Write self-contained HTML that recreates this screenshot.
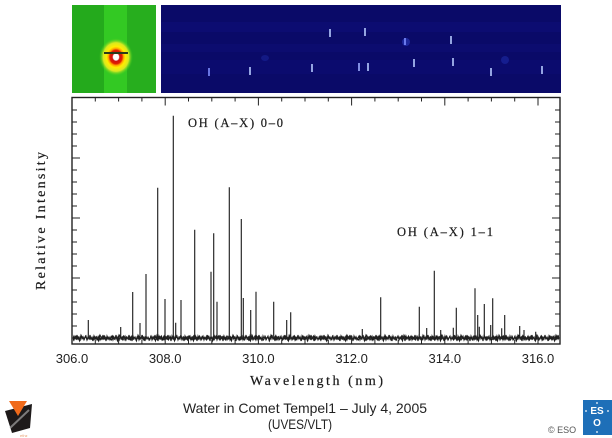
<!DOCTYPE html>
<html><head><meta charset="utf-8"><style>
html,body{margin:0;padding:0;background:#fff;}
svg{display:block;}
</style></head><body>
<svg width="612" height="438" viewBox="0 0 612 438" xmlns="http://www.w3.org/2000/svg">
<defs>
<radialGradient id="glow" cx="0.5" cy="0.5" r="0.5">
<stop offset="0" stop-color="#ffffff"/>
<stop offset="0.16" stop-color="#ffffff"/>
<stop offset="0.22" stop-color="#d01010"/>
<stop offset="0.36" stop-color="#e02000"/>
<stop offset="0.44" stop-color="#ffa000"/>
<stop offset="0.55" stop-color="#ffee00"/>
<stop offset="0.75" stop-color="#d8e820"/>
<stop offset="1" stop-color="#34cc22" stop-opacity="0"/>
</radialGradient>
<pattern id="nA" patternUnits="userSpaceOnUse" x="72" y="332" width="13" height="12">
<polyline points="0,6 1,4 2,8 3,5 4,7 5,3 6,7 7,5 8,9 9,4 10,7 11,5 12,8 13,6" fill="none" stroke="#111" stroke-width="1"/>
</pattern>
<pattern id="nB" patternUnits="userSpaceOnUse" x="72" y="332" width="19" height="12">
<polyline points="0,6 1.5,8 3,4 4.5,7 6,5 7.5,9 9,3 10.5,6 12,7 13.5,4 15,8 16.5,5 18,7 19,6" fill="none" stroke="#1a1a1a" stroke-width="1"/>
</pattern>
<pattern id="nC" patternUnits="userSpaceOnUse" x="72" y="332" width="7" height="12">
<polyline points="0,6 1,7.5 2,5 3,6.5 4,4.5 5,7 6,5.5 7,6" fill="none" stroke="#222" stroke-width="0.9"/>
</pattern>
</defs>

<!-- green image -->
<rect x="72" y="5" width="84" height="88" fill="#24aa1c"/>
<rect x="104" y="5" width="23" height="88" fill="#33c923"/>
<rect x="127" y="5" width="29" height="88" fill="#27ae1e"/>
<ellipse cx="116" cy="57" rx="17" ry="19" fill="url(#glow)"/>
<line x1="104" y1="53" x2="128" y2="53" stroke="#2a3a1a" stroke-width="2"/>
<circle cx="116" cy="57" r="2.6" fill="#fff"/>

<!-- blue image -->
<rect x="161" y="5" width="400" height="88" fill="#0a0a68"/>
<rect x="161" y="22" width="400" height="10" fill="#12128a" opacity="0.25"/>
<rect x="161" y="44" width="400" height="8" fill="#12128a" opacity="0.2"/>
<rect x="161" y="60" width="400" height="14" fill="#10107e" opacity="0.3"/>
<ellipse cx="406" cy="42" rx="4" ry="4" fill="#2a3ac0" opacity="0.6"/>
<ellipse cx="505" cy="60" rx="4" ry="4" fill="#2030b0" opacity="0.5"/>
<ellipse cx="265" cy="58" rx="4" ry="3" fill="#2030b0" opacity="0.4"/>
<g stroke="#b8ccff" stroke-width="1.6">
<line x1="330" y1="29" x2="330" y2="37"/>
<line x1="365" y1="28" x2="365" y2="36"/>
<line x1="405" y1="38" x2="405" y2="45" stroke="#7f8fff"/>
<line x1="451" y1="36" x2="451" y2="44"/>
<line x1="209" y1="68" x2="209" y2="76" stroke="#8090ff"/>
<line x1="250" y1="67" x2="250" y2="75"/>
<line x1="312" y1="64" x2="312" y2="72"/>
<line x1="359" y1="63" x2="359" y2="71" stroke="#9fb0ff"/>
<line x1="368" y1="63" x2="368" y2="71"/>
<line x1="414" y1="59" x2="414" y2="67"/>
<line x1="453" y1="58" x2="453" y2="66"/>
<line x1="491" y1="68" x2="491" y2="76"/>
<line x1="542" y1="66" x2="542" y2="74"/>
</g>

<!-- noise baseline -->
<rect x="73" y="332" width="486" height="11" fill="url(#nA)"/>
<rect x="73" y="332" width="486" height="11" fill="url(#nB)"/>
<rect x="73" y="332" width="486" height="11" fill="url(#nC)"/>

<!-- spectral lines -->
<g stroke="#222" stroke-width="1.15" fill="none">
<path d="M88.3 338V320 M120.7 338V327 M132.7 338V292 M140 338V323 M146 338V274 M157.7 338V187.7 M165 338V299 M173.3 338V115.7 M175.7 338V322.7 M181 338V300 M194.7 338V229.7 M211 338V271.7 M213.7 338V233.3 M217 338V301.7 M229.3 338V187.3 M241.3 338V219 M243.3 338V298 M250.7 338V310 M256 338V291.7 M273.7 338V301.7 M286.7 338V320 M290.7 338V312.3"/>
<path d="M362.3 338V329 M380.7 338V297.3 M419.3 338V306.7 M426.7 338V328 M434.3 338V270.7 M440.7 338V330 M453.3 338V327.7 M456.3 338V307.7 M475 338V288.3 M477.7 338V315 M479.3 338V326.7 M484.3 338V304 M490.7 338V325 M492.7 338V298.3 M501.7 338V328.3 M504.7 338V315 M519.7 338V326 M524 338V330 M535.7 338V331.7"/>
</g>

<!-- frame -->
<rect x="72" y="97.5" width="488" height="246.5" fill="none" stroke="#222" stroke-width="1.4"/>
<g stroke="#222" stroke-width="1">
<path d="M95.3 97.5v4 M118.6 97.5v4 M141.9 97.5v4 M165.2 97.5v8 M188.5 97.5v4 M211.8 97.5v4 M235.1 97.5v4 M258.4 97.5v8 M281.7 97.5v4 M305 97.5v4 M328.3 97.5v4 M351.6 97.5v8 M374.9 97.5v4 M398.2 97.5v4 M421.5 97.5v4 M444.8 97.5v8 M468.1 97.5v4 M491.4 97.5v4 M514.7 97.5v4 M538 97.5v8"/>
<path d="M95.3 344v-4 M118.6 344v-4 M141.9 344v-4 M165.2 344v-8 M188.5 344v-4 M211.8 344v-4 M235.1 344v-4 M258.4 344v-8 M281.7 344v-4 M305 344v-4 M328.3 344v-4 M351.6 344v-8 M374.9 344v-4 M398.2 344v-4 M421.5 344v-4 M444.8 344v-8 M468.1 344v-4 M491.4 344v-4 M514.7 344v-4 M538 344v-8"/>
<path d="M72 110h5 M72 122h5 M72 134h5 M72 146h5 M72 158h8 M72 170h5 M72 182h5 M72 194h5 M72 206h5 M72 218h8 M72 230h5 M72 242h5 M72 254h5 M72 266h5 M72 278h8 M72 290h5 M72 302h5 M72 314h5 M72 326h5 M72 338h8"/>
<path d="M560 110h-5 M560 122h-5 M560 134h-5 M560 146h-5 M560 158h-8 M560 170h-5 M560 182h-5 M560 194h-5 M560 206h-5 M560 218h-8 M560 230h-5 M560 242h-5 M560 254h-5 M560 266h-5 M560 278h-8 M560 290h-5 M560 302h-5 M560 314h-5 M560 326h-5 M560 338h-8"/>
</g>

<!-- tick labels -->
<g font-family="Liberation Sans, sans-serif" font-size="13" fill="#222" text-anchor="middle">
<text x="72" y="363">306.0</text>
<text x="165.2" y="363">308.0</text>
<text x="258.4" y="363">310.0</text>
<text x="351.6" y="363">312.0</text>
<text x="444.8" y="363">314.0</text>
<text x="538" y="363">316.0</text>
</g>

<!-- axis titles -->
<text x="250" y="385" font-family="Liberation Serif, serif" font-size="14" fill="#1a1a1a" stroke="#1a1a1a" stroke-width="0.2" textLength="133" lengthAdjust="spacing">Wavelength (nm)</text>
<text transform="translate(45,290) rotate(-90)" x="0" y="0" font-family="Liberation Serif, serif" font-size="14" fill="#1a1a1a" stroke="#1a1a1a" stroke-width="0.2" textLength="138" lengthAdjust="spacing">Relative Intensity</text>

<!-- annotations -->
<text x="188" y="127" font-family="Liberation Serif, serif" font-size="12.5" fill="#1a1a1a" stroke="#1a1a1a" stroke-width="0.2" textLength="95" lengthAdjust="spacing">OH (A–X) 0–0</text>
<text x="397" y="236" font-family="Liberation Serif, serif" font-size="12.5" fill="#1a1a1a" stroke="#1a1a1a" stroke-width="0.2" textLength="96" lengthAdjust="spacing">OH (A–X) 1–1</text>

<!-- caption -->
<text x="183" y="413" font-family="Liberation Sans, sans-serif" font-size="14" fill="#222" textLength="244" lengthAdjust="spacingAndGlyphs">Water in Comet Tempel1 – July 4, 2005</text>
<text x="268" y="429" font-family="Liberation Sans, sans-serif" font-size="14" fill="#222" textLength="64" lengthAdjust="spacingAndGlyphs">(UVES/VLT)</text>

<!-- left logo -->
<polygon points="5,411 32,404 30,428 12,433" fill="#1e1a1a"/>
<polygon points="9,401 27,401 18,416" fill="#f06a1a"/>
<line x1="10" y1="428" x2="29" y2="410" stroke="#bbb" stroke-width="2" opacity="0.6"/>
<text x="20" y="437" font-family="Liberation Sans, sans-serif" font-size="4" fill="#e8a070">ethz</text>

<!-- ESO logo -->
<text x="548" y="433" font-family="Liberation Sans, sans-serif" font-size="9" fill="#555">© ESO</text>
<rect x="583" y="400" width="29" height="35" fill="#1e6fb8"/>
<text x="597" y="414" font-family="Liberation Sans, sans-serif" font-size="10" fill="#fff" text-anchor="middle" font-weight="bold">ES</text>
<text x="597" y="426" font-family="Liberation Sans, sans-serif" font-size="10" fill="#fff" text-anchor="middle" font-weight="bold">O</text>
<g fill="#fff">
<circle cx="597" cy="403" r="0.9"/><circle cx="597" cy="432" r="0.9"/>
<circle cx="586" cy="411" r="0.9"/><circle cx="608" cy="411" r="0.9"/>
</g>
</svg>
</body></html>
